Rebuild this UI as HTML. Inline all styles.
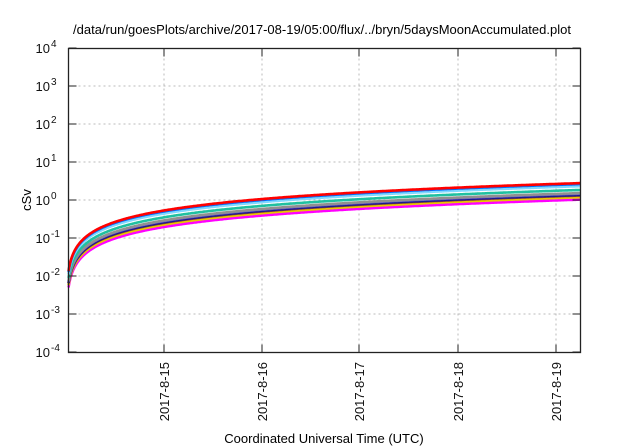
<!DOCTYPE html>
<html><head><meta charset="utf-8"><style>
body{margin:0;background:#fff}
svg{display:block;font-family:"Liberation Sans",sans-serif}
</style></head><body>
<svg id="s" width="640" height="448" viewBox="0 0 640 448">
<rect width="640" height="448" fill="#fff"/>
<text x="322" y="34" font-size="13" text-anchor="middle">/data/run/goesPlots/archive/2017-08-19/05:00/flux/../bryn/5daysMoonAccumulated.plot</text>
<g id="grid" stroke="#bbb" stroke-width="1" stroke-dasharray="2,3"></g>
<g id="curves" fill="none" stroke-width="2.6" stroke-linejoin="round"></g>
<g id="ticks" stroke="#222" stroke-width="1"></g>
<rect x="68.5" y="48.5" width="512" height="304" fill="none" stroke="#222" stroke-width="1.3"/>
<g id="labels" font-size="13" fill="#111"></g>
<text transform="translate(31,200) rotate(-90)" font-size="13" text-anchor="middle">cSv</text>
<text x="324" y="443" font-size="13" text-anchor="middle">Coordinated Universal Time (UTC)</text>
</svg>
<script>
var NS="http://www.w3.org/2000/svg";
function el(p,t,a,txt){var e=document.createElementNS(NS,t);for(var k in a)e.setAttribute(k,a[k]);if(txt!=null)e.textContent=txt;document.getElementById(p).appendChild(e);return e;}
var L=68.5,R=580.5,T=48.5,B=352.5;
function Y(v){return 200-38*Math.log10(v);}
for(var d=-4;d<=4;d++){var y=200-38*d;
 if(d>-4&&d<4)el("grid","line",{x1:L,x2:R,y1:y,y2:y});
 el("ticks","line",{x1:L,x2:L+8,y1:y,y2:y});el("ticks","line",{x1:R-8,x2:R,y1:y,y2:y});
 var t=el("labels","text",{x:50,y:y+5,"text-anchor":"end"},"10");
 var ts=document.createElementNS(NS,"tspan");ts.setAttribute("dy","-6");ts.setAttribute("font-size","10");ts.textContent=d;
 var g=el("labels","text",{x:51,y:y-1,"font-size":"10"},String(d));
}
var xs=[164,262,359,458,556],nm=["15","16","17","18","19"];
for(var i=0;i<5;i++){var x=xs[i];
 el("grid","line",{x1:x,x2:x,y1:T,y2:B});
 el("ticks","line",{x1:x,x2:x,y1:B-8,y2:B});el("ticks","line",{x1:x,x2:x,y1:T,y2:T+8});
 el("labels","text",{transform:"translate("+(x+5)+",362) rotate(-90)","text-anchor":"end"},"2017-8-"+nm[i]);
}
var ser=[["#ff00ff",0.195],["#e8c800",0.225],["#8b3a3a",0.25],["#1a1a8c",0.26],["#6a5acd",0.28],["#909090",0.29],["#20c0a0",0.35],["#80d8ff",0.44],["#0070ff",0.5],["#ff0000",0.53]];
var x0=66,pd=98;
ser.forEach(function(s){var d="";
 for(var x=L;x<=R;x+=1){var t=(x-x0)/pd;var v=s[1]*t;d+=(d?"L":"M")+x.toFixed(1)+","+Math.min(Y(v),B).toFixed(1);}
 el("curves","path",{d:d,stroke:s[0]});
});
</script>
</body></html>
